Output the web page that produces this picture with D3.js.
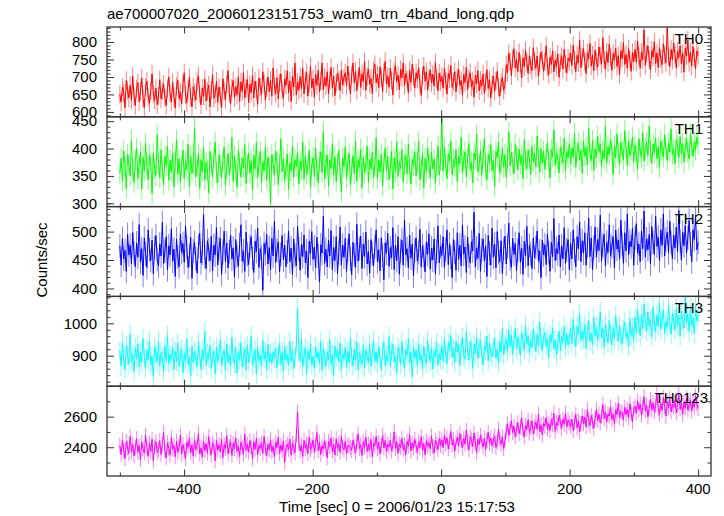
<!DOCTYPE html>
<html><head><meta charset="utf-8">
<script src="https://cdn.jsdelivr.net/npm/d3@7"></script>
<style>
body{margin:0;background:#fff}
svg{display:block}
text{font-family:"Liberation Sans",Arial,Helvetica,sans-serif;fill:#000}
</style>
</head><body><svg id="c" width="724" height="516"></svg>
<script>
// ---------------- data ----------------
const chartTitle = "ae700007020_20060123151753_wam0_trn_4band_long.qdp";
const xLabel = "Time [sec] 0 = 2006/01/23 15:17:53";
const yLabel = "Counts/sec";
const xDomain = [-520, 420];
const xMajorTicks = [-400, -200, 0, 200, 400];
const xMinorTicks = [-500, -300, -100, 100, 300];
const timeStart = -500;
const timeEnd = 400;
const bandNames = ["TH0", "TH1", "TH2", "TH3", "TH0123"];
const bandColors = ["#ff0000", "#00ff00", "#0000ff", "#00ffff", "#ff00ff"];
const bandErrors = [26, 19, 21, 30, 49];
const yDomains = [[586, 843], [294, 458], [386, 544], [806, 1083], [2212, 2799]];
const yMajorTicks = [[600, 650, 700, 750, 800], [300, 350, 400, 450], [400, 450, 500], [900, 1000], [2400, 2600]];
const yMinorTicks = [
  [590,610,620,630,640,660,670,680,690,710,720,730,740,760,770,780,790,810,820,830,840],
  [300,310,320,330,340,360,370,380,390,410,420,430,440],
  [390,410,420,430,440,460,470,480,490,510,520,530,540],
  [820,840,860,880,920,940,960,980,1020,1040,1060,1080],
  [2300,2500,2700]
];

const th0 = [
650,628,671,655,612,690,661,640,676,633,702,645,618,667,684,629,659,697,638,612,
671,688,642,625,660,709,651,633,668,621,645,692,637,660,679,
641,618,667,700,652,629,684,645,611,673,690,638,657,623,681,712,648,626,664,699,
640,615,672,655,634,687,703,651,620,668,645,694,631,659,677,614,662,706,639,650,
688,627,671,646,612,695,660,635,679,718,653,624,668,690,641,
672,649,701,630,686,658,712,641,667,693,626,679,655,704,640,688,663,622,697,671,
650,715,682,634,669,700,657,691,645,726,674,652,698,637,683,709,661,640,694,676,
718,655,689,630,702,671,740,648,685,662,
701,667,724,652,690,713,645,681,730,669,695,642,708,676,719,657,688,740,663,699,
674,715,651,692,727,668,703,646,684,711,690,661,720,677,698,
712,674,731,689,652,705,740,683,716,661,698,727,670,709,688,744,662,701,723,679,
695,652,718,736,684,707,669,729,697,658,713,745,680,702,671,725,690,648,716,733,
687,705,664,721,698,740,676,710,692,655,719,684,737,701,668,712,694,726,679,647,
703,731,688,715,662,697,720,683,708,674,741,693,660,711,686,
702,668,725,689,651,710,694,733,670,687,715,657,698,722,676,690,648,707,684,728,
663,695,712,671,689,642,705,680,718,660,691,674,709,653,686,721,667,692,640,678,
703,659,688,716,670,645,684,699,662,676,
735,712,768,744,703,752,781,726,749,715,770,738,697,755,729,776,742,710,761,733,
718,784,746,725,760,702,739,771,750,716,743,789,728,707,757,736,775,714,748,730,
766,699,741,759,723,780,737,712,754,745,
768,733,791,749,715,762,740,805,726,758,781,744,710,769,752,796,731,763,718,777,
745,728,786,759,737,812,750,722,772,741,794,756,719,767,748,783,730,761,707,775,
753,798,736,764,725,781,749,716,770,744,
779,742,803,758,725,771,750,835,733,766,789,748,720,776,757,801,738,769,727,784,
752,735,795,763,741,842,758,730,779,749,798,764,726,773,755,790,737,768,714,782,
760,806,742,771,731,787,756,723,775,761
];

const th1 = [
355,382,341,396,368,327,389,372,350,415,362,338,379,401,345,371,394,326,385,359,
410,367,343,388,376,318,392,364,351,425,373,347,398,361,334,386,369,405,342,379,
357,392,330,374,416,353,381,339,368,397,345,377,362,408,331,386,355,372,438,349,
366,391,327,380,358,402,343,375,361,319,395,372,348,384,412,356,337,389,369,346,
378,403,333,365,391,352,374,420,340,386,361,329,397,373,348,382,365,407,336,371,
392,355,378,324,388,363,411,347,370,395,338,376,359,402,343,384,366,299,389,372,
351,396,375,334,369,418,357,381,342,364,390,326,373,359,405,348,380,367,392,335,
377,361,412,344,386,353,371,397,329,368,383,349,401,362,337,376,394,356,431,345,
370,388,331,379,364,409,352,385,340,373,396,358,321,382,367,403,346,375,391,333,
362,387,354,414,341,378,366,399,328,384,356,372,405,338,381,363,393,347,369,420,
345,379,357,390,332,374,401,360,386,343,367,395,326,383,358,412,349,376,364,398,
339,371,388,354,408,361,335,380,369,394,350,376,413,343,366,389,328,382,357,401,
372,346,394,363,381,337,369,405,352,378,
455,359,402,371,345,390,377,414,352,381,367,398,340,386,373,421,356,379,394,348,
383,409,362,375,337,392,380,426,358,371,396,351,384,418,365,343,389,374,407,360,
378,331,395,383,412,356,370,401,366,389,347,382,430,368,393,375,354,409,386,361,
399,372,388,345,416,379,363,397,381,352,404,376,391,366,423,384,357,400,373,395,
362,389,411,378,346,398,385,434,369,392,381,356,403,388,374,419,360,395,383,409,
372,401,385,428,366,394,410,379,397,355,413,386,402,370,437,391,378,415,360,399,
384,422,393,408,367,396,381,440,374,403,389,416,398,352,405,383,427,392,371,411,
395,380,433,402,369,414,387,398,421,376,406,391,362,418,395,384,429,377,400,412,
387,441,396,373,408,392,419,382,403,366,414,397,385,425,401,378,410,394,436,389,
398,372,416,405,383,422,391,409,375,402,418,393,381,427,404,386,412,397,421,407
];

const th2 = [
475,441,488,452,467,430,495,459,476,443,498,462,438,480,455,512,446,470,423,489,
461,437,503,468,449,485,426,472,493,451,440,478,457,516,444,466,491,433,475,459,
505,448,469,421,487,455,438,496,463,479,446,510,472,437,458,490,418,466,481,452,
427,474,497,445,462,530,456,435,484,468,449,492,431,476,459,507,441,470,488,425,
463,501,447,480,436,465,494,452,471,420,486,458,439,477,512,448,466,430,499,460,
442,474,491,453,428,483,465,506,437,470,455,397,479,461,495,443,472,433,488,457,
518,446,467,482,429,460,493,450,476,438,464,501,447,471,424,487,458,440,509,469,
432,478,456,494,445,466,419,483,461,500,451,473,436,490,458,411,477,462,527,444,
469,438,485,457,502,433,472,449,491,426,463,508,441,476,455,488,430,467,496,452,
424,481,459,437,513,448,470,492,435,478,456,499,443,465,427,486,461,440,474,503,
447,468,431,489,458,415,480,462,497,439,472,454,507,433,476,449,491,425,466,485,
441,520,459,470,436,494,453,478,422,467,489,448,463,504,438,475,457,429,482,460,
496,434,471,450,487,426,465,510,445,474,458,491,437,468,503,442,479,455,419,486,
464,432,498,451,476,440,512,460,473,428,490,457,445,482,466,534,438,471,453,497,
430,468,487,449,475,421,493,462,441,506,455,478,436,500,463,447,484,426,469,492,
443,474,515,452,437,488,460,479,431,467,498,446,471,425,483,457,509,440,476,461,
435,489,454,472,501,448,466,419,485,459,477,442,496,463,430,481,456,523,449,470,
461,494,438,475,452,507,444,468,486,433,
479,452,503,466,438,491,470,517,447,484,462,498,441,475,524,456,489,433,472,508,
455,486,467,529,448,476,495,440,481,463,512,458,474,491,436,503,469,485,452,520,
477,444,498,466,531,459,483,473,506,441,489,514,462,478,447,501,470,536,455,487,
468,495,443,509,481,460,527,474,490,449,503,476,531,457,486,499,463,518,480,452,
494,471,508,465,537,483,450,499,475,511,462,489,520,478,447,503,486,529,468,481
];

const th3 = [
915,868,942,889,857,931,901,874,966,882,903,851,925,890,937,866,912,879,954,895,
861,918,887,946,872,899,836,927,905,881,944,868,910,893,851,929,884,963,875,902,
889,926,857,914,881,940,866,898,921,847,907,885,952,873,896,838,931,879,912,890,
867,943,901,858,920,886,975,870,909,892,933,861,897,915,844,926,883,905,949,872,
898,917,853,936,880,903,869,957,891,876,925,847,911,888,940,864,899,921,856,932,
879,906,962,871,894,918,843,927,885,902,868,947,890,913,857,935,882,908,876,912,
894,923,861,900,939,874,912,850,928,887,903,871,945,882,916,859,897,931,1047,909,
884,952,866,901,924,845,915,889,937,873,898,860,928,893,911,876,944,855,920,891,
867,913,886,949,872,904,839,930,895,917,881,939,858,906,890,926,863,914,877,955,
897,869,921,884,943,856,910,892,873,933,862,918,899,879,937,868,904,948,883,911,
876,929,893,857,916,941,870,902,884,959,867,912,935,881,898,846,925,907,873,944,
889,862,920,901,953,878,911,834,926,894,917,870,938,886,903,861,930,892,876,947,
905,882,925,859,914,896,940,871,908,888,
931,884,952,903,876,940,917,963,895,922,879,946,911,935,868,927,956,900,889,974,
914,887,943,921,861,936,905,958,891,925,948,903,872,930,916,961,884,939,908,897,
926,955,893,919,876,945,911,984,902,933,
951,912,979,928,963,904,947,986,921,958,935,900,970,944,918,992,937,962,909,949,
925,983,946,913,966,931,1004,940,917,958,972,929,951,895,964,942,985,921,948,903,
937,976,915,959,944,991,926,968,933,952,
984,938,1012,959,927,990,966,1030,947,975,952,996,921,978,1008,944,969,935,1019,961,
989,948,972,1036,955,983,926,997,964,941,1010,968,933,987,952,1023,975,946,993,959,
937,981,1004,956,972,929,1015,962,988,945,
1018,970,1042,995,961,1027,983,1060,1003,976,1035,990,1012,958,1049,1000,974,1026,991,1063,
982,1014,1041,969,1005,987,1056,998,966,1031,1009,979,1047,994,1022,960,1038,1011,985,1085,
1001,1029,975,1044,993,1016,968,1052,1007,1024
];

const th0123 = [
2412,2351,2447,2380,2326,2438,2395,2359,2471,2372,2420,2343,2398,2456,2367,2411,2318,2433,2389,2362,
2478,2394,2340,2425,2371,2452,2309,2403,2437,2366,2385,2444,2352,2419,2497,2374,2331,2428,2391,2348,
2463,2387,2412,2338,2440,2369,2402,2480,2355,2418,2377,2326,2434,2399,2458,2364,2416,2341,2448,2384,
2410,2489,2357,2396,2335,2441,2378,2423,2362,2470,2393,2349,2429,2406,2311,2447,2381,2415,2369,2452,
2333,2418,2392,2476,2358,2404,2437,2346,2425,2390,2461,2373,2408,2339,2432,2398,2355,2486,2380,2419,
2367,2444,2401,2324,2437,2386,2458,2350,2413,2392,2428,2361,2471,2395,2344,2420,2382,2449,2372,2406,
2337,2433,2398,2466,2359,2414,2376,2441,2302,2397,2419,2385,2453,2348,2427,2400,2364,2479,2631,2431,
2374,2412,2340,2446,2393,2421,2358,2467,2384,2405,2448,2369,2416,2496,2378,2434,2353,2409,2387,2442,
2395,2330,2437,2404,2461,2372,2418,2349,2455,2391,2423,2366,2474,2401,2382,2440,2357,2412,2409,2398,
2379,2445,2406,2361,2429,2488,2390,2415,2346,2437,2400,2465,2373,2419,2384,2452,2338,2426,2409,2471,
2388,2432,2357,2411,2478,2395,2443,2369,2420,2402,2445,2376,2414,2501,2392,2436,2360,2422,2398,2459,
2383,2417,2349,2440,2407,2483,2375,2428,2393,2451,2410,2364,2436,2397,2469,2381,2425,2350,2442,2408,
2429,2391,2474,2403,2362,2447,2418,2385,2457,2412,
2448,2397,2480,2421,2462,2389,2437,2503,2415,2451,2374,2430,2466,2409,2489,2442,2396,2458,2420,2512,
2435,2381,2470,2447,2405,2494,2428,2363,2453,2417,2476,2439,2402,2461,2385,2445,2498,2426,2459,2411,
2442,2473,2398,2434,2517,2451,2419,2468,2392,2440,
2505,2552,2478,2521,2573,2496,2538,2470,2514,2561,2489,2530,2592,2507,2468,2545,2517,2581,2493,2527,
2573,2489,2534,2565,2517,2616,2501,2548,2480,2556,2537,2594,2520,2553,2509,2581,2545,2622,2504,2562,
2541,2609,2566,2523,2584,2550,2620,2534,2578,2557,
2536,2583,2508,2561,2615,2527,2574,2500,2552,2606,2555,2598,2533,2646,2577,2541,2609,2566,2523,2590,
2647,2574,2616,2559,2601,2680,2587,2630,2564,2619,2603,2663,2582,2618,2551,2645,2612,2687,2593,2634,
2626,2580,2661,2613,2647,2594,2684,2622,2565,2653,
2668,2621,2702,2645,2683,2610,2659,2731,2637,2676,2598,2655,2712,2643,2690,2629,2671,2748,2652,2614,
2687,2641,2725,2668,2603,2694,2657,2719,2632,2680,2661,2706,2626,2673,2744,2649,2688,2615,2697,2658,
2723,2642,2679,2708,2636,2691,2662,2737,2684,2651
];

const bandSeries = [th0, th1, th2, th3, th0123];

// ---------------- drawing ----------------
const plotL = 107, plotR = 711, plotT = 27, plotB = 476;
const nPanels = bandSeries.length;
const panelH = (plotB - plotT) / nPanels;
const axisColor = "#333";
const numFmt = d3.format("d");

const svg = d3.select("#c");
const x = d3.scaleLinear().domain(xDomain).range([plotL, plotR]);

svg.append("text").attr("x", plotL).attr("y", 19)
  .attr("font-size", 15).text(chartTitle);

const defs = svg.append("defs");
const strip = sel => sel.call(s => s.select(".domain").remove());

bandSeries.forEach((vals, i) => {
  const y0 = plotT + i * panelH, y1 = y0 + panelH;
  const y = d3.scaleLinear().domain(yDomains[i]).range([y1, y0]);
  const n = vals.length;
  const step = (timeEnd - timeStart) / (n - 1);
  const pts = vals.map((v, k) => ({t: timeStart + k * step, v}));
  const err = bandErrors[i];
  const color = bandColors[i];

  defs.append("clipPath").attr("id", "clip" + i)
    .append("rect").attr("x", plotL).attr("y", y0).attr("width", plotR - plotL).attr("height", panelH);

  const g = svg.append("g").attr("clip-path", `url(#clip${i})`);
  g.append("g").selectAll("line").data(pts).join("line")
    .attr("x1", d => x(d.t)).attr("x2", d => x(d.t))
    .attr("y1", d => y(d.v - err)).attr("y2", d => y(d.v + err))
    .attr("stroke", color).attr("stroke-opacity", 0.5).attr("stroke-width", 1);
  g.append("path").datum(pts)
    .attr("d", d3.line().x(d => x(d.t)).y(d => y(d.v)))
    .attr("fill", "none").attr("stroke", color).attr("stroke-width", 1);

  // y axes
  svg.append("g").attr("transform", `translate(${plotL},0)`)
    .call(d3.axisLeft(y).tickValues(yMajorTicks[i]).tickSize(-7).tickPadding(10).tickFormat(numFmt))
    .call(strip)
    .call(s => s.selectAll("text").attr("font-size", 15).attr("font-family", null).attr("fill", "#000"))
    .call(s => s.selectAll("line").attr("stroke", axisColor));
  svg.append("g").attr("transform", `translate(${plotL},0)`)
    .call(d3.axisLeft(y).tickValues(yMinorTicks[i]).tickSize(-3.5).tickFormat(""))
    .call(strip).call(s => s.selectAll("line").attr("stroke", axisColor));
  svg.append("g").attr("transform", `translate(${plotR},0)`)
    .call(d3.axisRight(y).tickValues(yMajorTicks[i]).tickSize(-7).tickFormat(""))
    .call(strip).call(s => s.selectAll("line").attr("stroke", axisColor));
  svg.append("g").attr("transform", `translate(${plotR},0)`)
    .call(d3.axisRight(y).tickValues(yMinorTicks[i]).tickSize(-3.5).tickFormat(""))
    .call(strip).call(s => s.selectAll("line").attr("stroke", axisColor));

  // x ticks top & bottom
  [[y0, d3.axisTop], [y1, d3.axisBottom]].forEach(([yy, ax]) => {
    svg.append("g").attr("transform", `translate(0,${yy})`)
      .call(ax(x).tickValues(xMajorTicks).tickSize(-6.5).tickFormat(""))
      .call(strip).call(s => s.selectAll("line").attr("stroke", axisColor));
    svg.append("g").attr("transform", `translate(0,${yy})`)
      .call(ax(x).tickValues(xMinorTicks).tickSize(-3.5).tickFormat(""))
      .call(strip).call(s => s.selectAll("line").attr("stroke", axisColor));
  });

  svg.append("rect").attr("x", plotL).attr("y", y0).attr("width", plotR - plotL).attr("height", panelH)
    .attr("fill", "none").attr("stroke", axisColor).attr("stroke-width", 1.3);

  svg.append("text")
    .attr("x", i === nPanels - 1 ? 708 : 703).attr("y", y0 + 17)
    .attr("text-anchor", "end").attr("font-size", 15).text(bandNames[i]);
});

// x tick labels
svg.append("g").selectAll("text").data(xMajorTicks).join("text")
  .attr("x", d => x(d)).attr("y", 494).attr("text-anchor", "middle")
  .attr("font-size", 15).text(d => numFmt(d));

svg.append("text").attr("x", 397).attr("y", 512).attr("text-anchor", "middle")
  .attr("font-size", 15).text(xLabel);

svg.append("text").attr("transform", "translate(47,260) rotate(-90)")
  .attr("text-anchor", "middle").attr("font-size", 15).text(yLabel);
</script>
</body></html>
